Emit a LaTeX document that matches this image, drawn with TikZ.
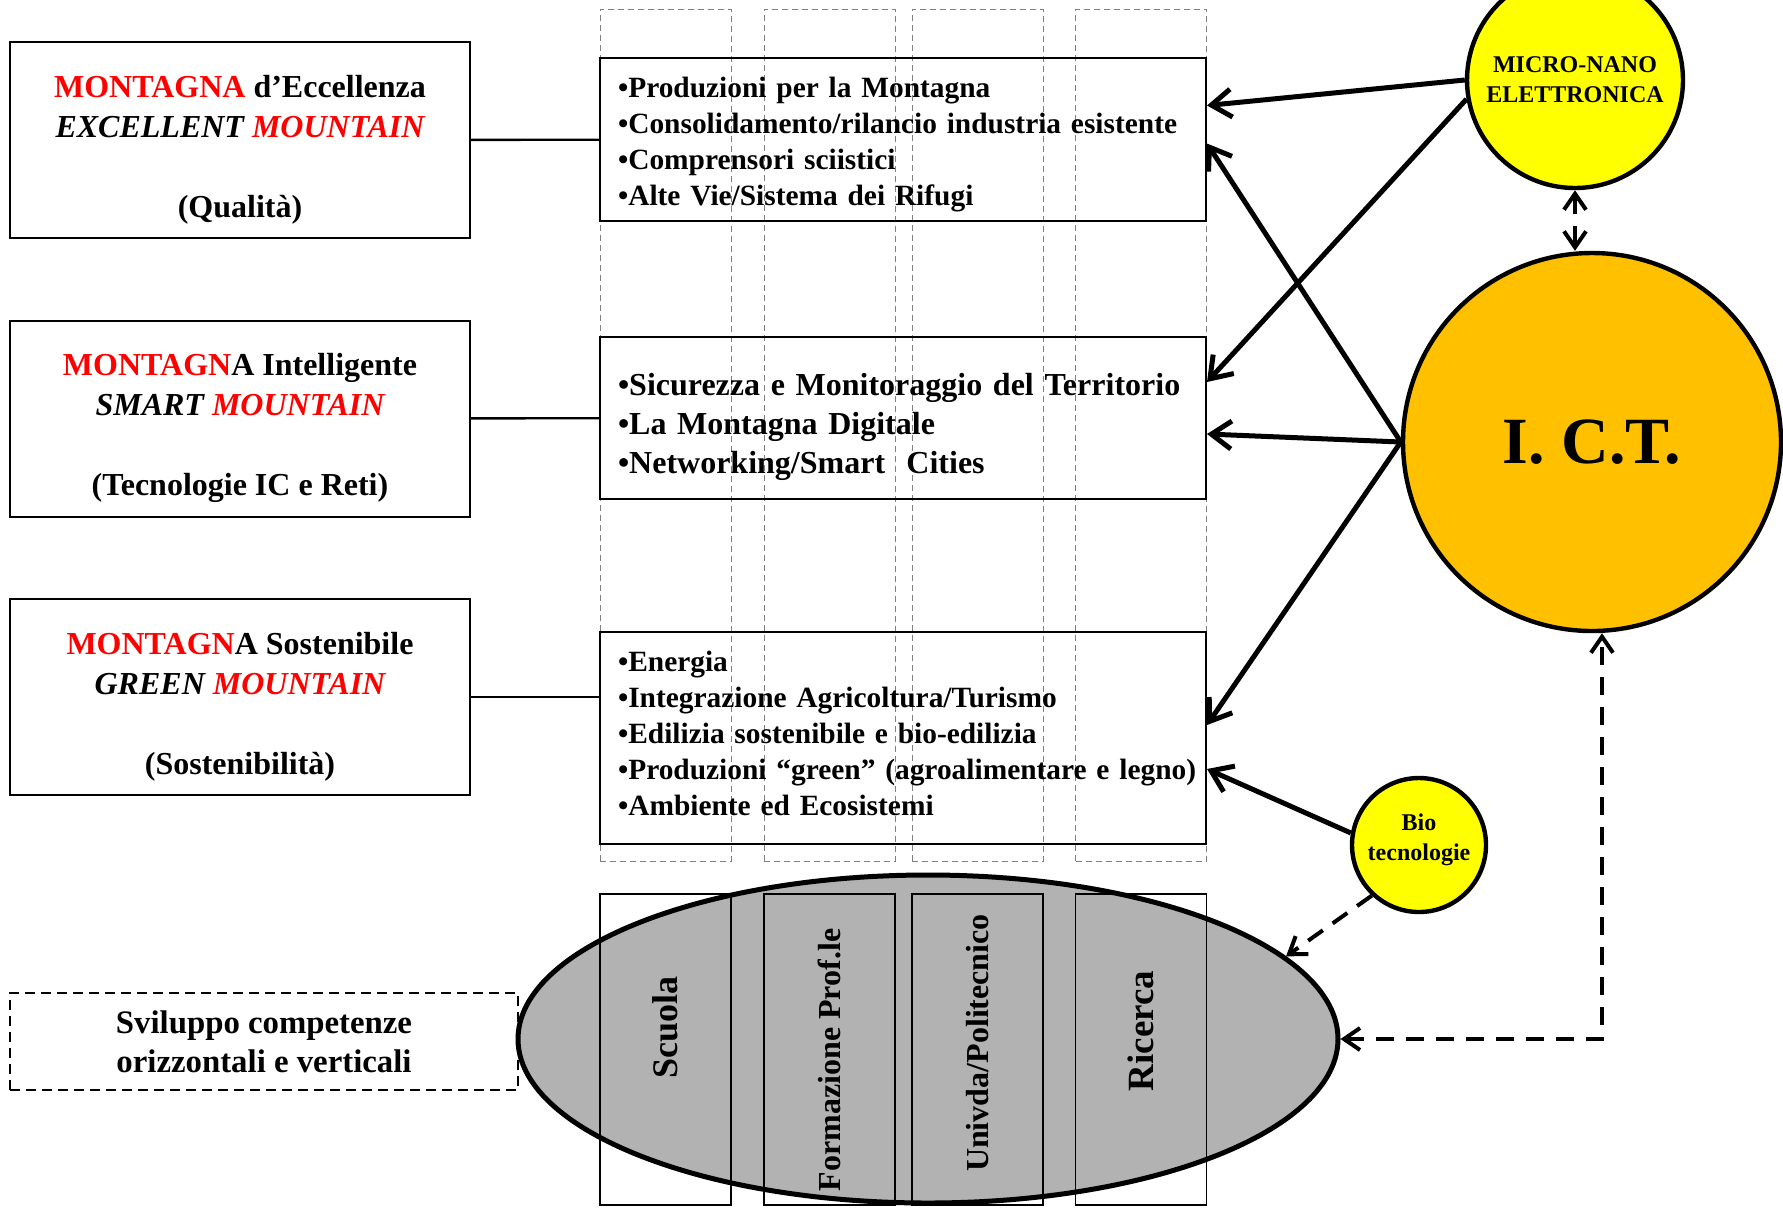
\documentclass[tikz,border=0pt]{standalone}
\usepackage{fontspec}
\setmainfont{Liberation Serif}
\usetikzlibrary{arrows.meta,positioning,calc,shapes.geometric}

\definecolor{ictorange}{RGB}{255,192,0}
\definecolor{chipyellow}{RGB}{255,255,0}
\definecolor{ovalgray}{RGB}{178,178,178}

\newcommand{\fsz}[2]{\fontsize{#1}{#2}\selectfont}

\begin{document}
\begin{tikzpicture}[x=0.5pt, y=-0.5pt, every node/.style={font=\bfseries},
    >={Straight Barb[length=8pt,width=11pt]},
    lbox/.style={draw, line width=1pt, minimum width=230pt, minimum height=98pt, text height=80.6pt, align=center, font=\bfseries\fsz{16}{20}},
    dbox/.style={draw, line width=1pt, dash pattern=on 5pt off 3pt, minimum width=254pt, minimum height=48.5pt, align=center, font=\bfseries\fsz{16.4}{19.5}},
    mbox/.style={draw, line width=1pt, text width=297pt, inner xsep=3pt, align=left, execute at begin node={\leftskip=6pt}},
    dotcol/.style={draw=gray, densely dashed, line width=0.4pt, minimum width=65.5pt, minimum height=426pt, inner sep=0pt},
    colbox/.style={draw, line width=0.8pt, minimum width=65.5pt, minimum height=155.5pt, inner sep=0pt},
    coltext/.style={rotate=90, font=\bfseries\fsz{16}{19}},
    ball/.style={circle, draw, line width=2.2pt, inner sep=0pt, align=center},
    feed/.style={line width=2.5pt, -{Straight Barb[length=10pt,width=14pt]}},
    link/.style={line width=2pt, dash pattern=on 9pt off 6pt},
    tie/.style={line width=1.2pt}]

    \useasboundingbox (0,0) rectangle (1783,1207);

    \node[lbox] (l1) at (240,140) {\textcolor{red}{MONTAGNA} d’Eccellenza\\\textit{EXCELLENT \textcolor{red}{MOUNTAIN}}\\[20pt](Qualità)};
    \node[lbox] (l2) at (240,418.5) {\textcolor{red}{MONTAGN}A Intelligente\\\textit{SMART \textcolor{red}{MOUNTAIN}}\\[20pt](Tecnologie IC e Reti)};
    \node[lbox] (l3) at (240,697) {\textcolor{red}{MONTAGN}A Sostenibile\\\textit{GREEN \textcolor{red}{MOUNTAIN}}\\[20pt](Sostenibilità)};
    \node[dbox] (sv) at (264,1041.5) {Sviluppo competenze\\orizzontali e verticali};

    \node[dotcol] (u1) at (665.5,435) {};
    \node[dotcol] (u2) at (829.5,435) {};
    \node[dotcol] (u3) at (977.5,435) {};
    \node[dotcol] (u4) at (1141,435) {};

    \node[mbox, minimum height=81.5pt, text height=14.8pt, font=\bfseries\fsz{14.7}{18}] (m1) at (903,139.5) {•Produzioni per la Montagna\\•Consolidamento/rilancio industria esistente\\•Comprensori sciistici\\•Alte Vie/Sistema dei Rifugi};
    \node[mbox, minimum height=81pt, text height=20pt, font=\bfseries\fsz{16}{19.5}] (m2) at (903,418) {•Sicurezza e Monitoraggio del Territorio\\•La Montagna Digitale\\•Networking/Smart\ \ Cities};
    \node[mbox, minimum height=106pt, text height=5.2pt, font=\bfseries\fsz{14.7}{18}] (m3) at (903,738) {•Energia\\•Integrazione Agricoltura/Turismo\\•Edilizia sostenibile e bio-edilizia\\•Produzioni “green” (agroalimentare e legno)\\•Ambiente ed Ecosistemi};

    \node[ellipse, draw, line width=2.5pt, fill=ovalgray, minimum width=410pt, minimum height=164pt] (oval) at (928,1039) {};
    \node[colbox] (c1) at (665.5,1049.5) {};
    \node[colbox] (c2) at (829.5,1049.5) {};
    \node[colbox] (c3) at (977.5,1049.5) {};
    \node[colbox] (c4) at (1141,1049.5) {};
    \node[coltext, font=\bfseries\fsz{18}{20}] (t1) at (665.5,1027) {Scuola};
    \node[coltext] (t2) at (829.5,1060) {Formazione Prof.le};
    \node[coltext] (t3) at (977.5,1043) {Univda/Politecnico};
    \node[coltext, font=\bfseries\fsz{18.5}{20}] (t4) at (1141,1031) {Ricerca};

    \node[ball, fill=chipyellow, minimum size=108pt, font=\bfseries\fsz{12}{15}] (micro) at (1575,80) {MICRO-NANO\\ELETTRONICA};
    \node[ball, fill=ictorange, minimum size=189pt, font=\bfseries\fsz{33}{36}] (ict) at (1592,442) {I. C.T.};
    \node[ball, fill=chipyellow, minimum size=67pt, text height=18.4pt, font=\bfseries\fsz{12}{15}] (bio) at (1419,845) {Bio\\tecnologie};

    \draw[tie] (l1) to (m1);
    \draw[tie] (l2) to (m2);
    \draw[tie] (l3.east) to (l3.east -| m3.west);

    \draw[feed] (micro.west) to ([yshift=17pt]m1.east);
    \draw[feed] (micro.190) to ([yshift=18pt]m2.east);
    \draw[feed] (ict.west) to ([yshift=-2pt]m1.east);
    \draw[feed] (ict.west) to ([yshift=-8pt]m2.east);
    \draw[feed] (ict.west) to ([yshift=6.5pt]m3.east);
    \draw[feed] (bio.170) to ([yshift=-15.5pt]m3.east);
    \draw[link, <->] (micro.south) to (micro.south |- ict.north);
    \draw[link, ->] (bio.227) to (oval.13);
    \draw[link, <->] (oval.east) -| ([xshift=5pt]ict.south);
\end{tikzpicture}
\end{document}
